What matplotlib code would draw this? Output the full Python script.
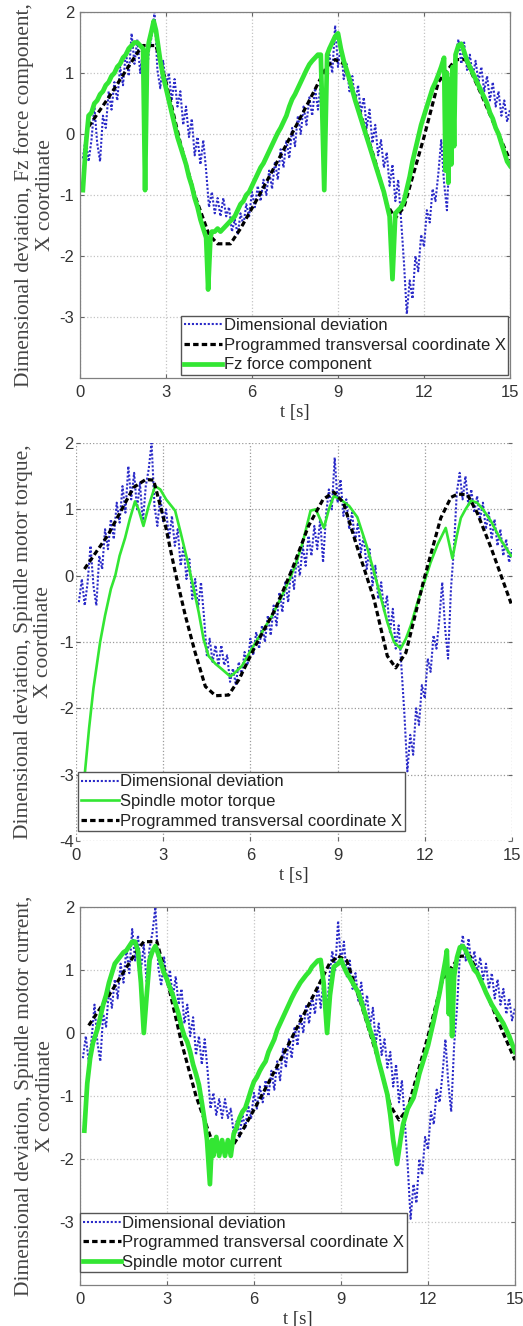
import matplotlib
matplotlib.use('Agg')
import matplotlib.pyplot as plt
import numpy as np

plt.rcParams['font.family'] = ['Liberation Sans', 'DejaVu Sans']
plt.rcParams['axes.unicode_minus'] = False

# ---------------- data ----------------
t_dev = np.round(np.linspace(0.1, 15.0, 150), 2)
dimensional_deviation = [
    -0.40, -0.05, -0.45, -0.10, 0.45, -0.15, -0.45, 0.30, 0.10, 0.70,
    0.40, 0.85, 0.55, 1.10, 0.80, 1.35, 0.95, 1.65, 1.15, 1.55,
    1.00, 1.40, 0.80, 1.35, 1.60, 2.00, 1.05, 0.75, 1.20, 0.80,
    1.00, 0.55, 0.90, 0.45, 0.70, 0.15, 0.45, -0.05, 0.25, -0.35,
    -0.05, -0.50, -0.10, -0.60, -1.20, -0.95, -1.30, -1.05, -1.35, -1.05,
    -1.35, -1.20, -1.60, -1.40, -1.65, -1.30, -1.50, -1.15, -1.35, -0.95,
    -1.20, -0.85, -1.10, -0.75, -1.00, -0.60, -0.90, -0.45, -0.75, -0.25,
    -0.55, -0.10, -0.40, 0.10, -0.20, 0.30, 0.00, 0.45, 0.15, 0.60,
    0.30, 0.75, 0.40, 0.85, 0.20, 0.90, 1.30, 1.00, 1.78, 1.10,
    1.45, 0.90, 1.15, 0.70, 0.95, 0.50, 0.80, 0.35, 0.60, 0.10,
    0.40, -0.15, 0.15, -0.35, -0.10, -0.55, -0.30, -0.85, -0.50, -1.10,
    -0.75, -1.40, -2.10, -2.95, -2.40, -2.70, -2.00, -2.25, -1.65, -1.85,
    -1.25, -1.45, -0.90, -1.10, -0.65, -0.10, -0.80, -1.25, -0.20, 0.40,
    1.25, 1.55, 1.15, 1.50, 1.05, 1.30, 0.95, 1.20, 0.85, 1.10,
    0.70, 0.95, 0.55, 0.85, 0.45, 0.70, 0.30, 0.55, 0.20, 0.40,
]

# programmed X coordinate (as drawn in panels 1 and 3)
t_x = [0.3, 1.0, 2.0, 2.2, 2.65, 3.0, 3.5, 4.0, 4.5, 4.8, 5.25, 5.6, 6.2, 7.0,
       8.0, 8.6, 8.9, 9.2, 9.7, 10.3, 10.7, 11.0, 11.3, 12.0, 12.5, 13.1, 13.45,
       14.0, 14.5, 15.0]
x_coord = [0.12, 0.6, 1.33, 1.45, 1.45, 0.85, -0.15, -1.0, -1.65, -1.8, -1.8, -1.55,
           -1.05, -0.35, 0.55, 1.1, 1.22, 1.15, 0.45, -0.45, -1.15, -1.38, -1.2,
           -0.05, 0.85, 1.22, 1.22, 0.65, 0.1, -0.43]

# programmed X coordinate (as drawn in panel 2, rounded)
t_x2 = [0.29, 1.11, 1.98, 2.4, 2.67, 3.07, 3.41, 3.76, 4.1, 4.45, 4.8, 5.25, 5.6,
        6.17, 6.86, 7.44, 8.0, 8.5, 8.87, 9.2, 9.68, 10.25, 10.71, 11.0, 11.35,
        11.98, 12.55, 12.9, 13.13, 13.47, 13.8, 14.28, 14.97]
x_coord2 = [0.1, 0.62, 1.33, 1.45, 1.44, 0.77, 0.06, -0.6, -1.16, -1.67, -1.81,
            -1.8, -1.57, -1.06, -0.5, 0.1, 0.75, 1.15, 1.26, 1.1, 0.42, -0.35,
            -1.21, -1.39, -1.16, -0.04, 0.87, 1.18, 1.23, 1.22, 0.95, 0.42, -0.42]

t_fz = [0.1, 0.2, 0.3, 0.4, 0.5, 0.6, 0.7, 0.8, 0.9, 1.0, 1.1, 1.2, 1.3, 1.4, 1.5,
        1.6, 1.7, 1.8, 1.9, 2.0, 2.1, 2.2, 2.27, 2.34, 2.4, 2.5, 2.57, 2.65, 2.8,
        2.9, 3.0, 3.1, 3.2, 3.3, 3.4, 3.5, 3.6, 3.7, 3.8, 3.9, 4.0, 4.1, 4.2, 4.3,
        4.4, 4.47, 4.55, 4.6, 4.7, 4.8, 4.9, 5.0, 5.1, 5.2, 5.3, 5.4, 5.5, 5.6,
        5.7, 5.8, 5.9, 6.0, 6.1, 6.2, 6.3, 6.4, 6.5, 6.6, 6.7, 6.8, 6.9, 7.0, 7.1,
        7.2, 7.3, 7.4, 7.5, 7.6, 7.7, 7.8, 7.9, 8.0, 8.1, 8.2, 8.3, 8.4, 8.52,
        8.62, 8.7, 8.8, 8.9, 9.0, 9.1, 9.2, 9.3, 9.4, 9.5, 9.6, 9.7, 9.8, 9.9,
        10.0, 10.1, 10.2, 10.3, 10.4, 10.5, 10.6, 10.7, 10.8, 10.9, 11.0, 11.1,
        11.2, 11.3, 11.4, 11.5, 11.6, 11.7, 11.8, 11.9, 12.0, 12.1, 12.2, 12.3,
        12.4, 12.5, 12.6, 12.7, 12.75, 12.8, 12.85, 12.9, 12.95, 13.0, 13.05,
        13.1, 13.2, 13.3, 13.4, 13.5, 13.6, 13.7, 13.8, 13.9, 14.0, 14.1, 14.2,
        14.3, 14.4, 14.5, 14.6, 14.7, 14.8, 14.9, 15.0]
fz_force = [-0.92, -0.2, 0.3, 0.35, 0.5, 0.55, 0.65, 0.7, 0.8, 0.85, 0.95, 1.0,
            1.1, 1.15, 1.25, 1.3, 1.4, 1.45, 1.5, 1.5, 1.45, 1.4, -0.92, 1.3, 1.5,
            1.7, 1.85, 1.7, 1.2, 0.95, 0.75, 0.55, 0.35, 0.15, -0.05, -0.2, -0.35,
            -0.5, -0.7, -0.85, -1.05, -1.2, -1.4, -1.55, -1.7, -2.55, -1.7, -1.6,
            -1.6, -1.55, -1.6, -1.55, -1.5, -1.45, -1.4, -1.35, -1.25, -1.15, -1.1,
            -1.0, -0.95, -0.85, -0.75, -0.65, -0.55, -0.48, -0.38, -0.28, -0.18,
            -0.08, 0.02, 0.1, 0.2, 0.3, 0.45, 0.57, 0.65, 0.75, 0.85, 0.95, 1.05,
            1.14, 1.2, 1.25, 1.3, 1.3, -0.92, 1.3, 1.4, 1.5, 1.6, 1.65, 1.4, 1.2,
            1.05, 0.9, 0.72, 0.55, 0.4, 0.25, 0.1, -0.05, -0.2, -0.35, -0.5, -0.65,
            -0.8, -0.95, -1.15, -1.35, -2.38, -1.3, -1.25, -1.2, -1.1, -0.9, -0.7,
            -0.45, -0.25, -0.05, 0.15, 0.3, 0.45, 0.6, 0.75, 0.85, 0.97, 1.1, 1.25,
            -0.6, 1.0, -0.8, 0.9, -0.5, 1.1, -0.2, 1.3, 1.45, 1.48, 1.35, 1.2, 1.1,
            1.0, 0.9, 0.8, 0.7, 0.6, 0.5, 0.35, 0.25, 0.1, 0.0, -0.15, -0.3, -0.45,
            -0.52]

t_tq = [0.3, 0.45, 0.6, 0.83, 1.0, 1.2, 1.35, 1.5, 1.69, 1.85, 2.03, 2.15, 2.32,
        2.5, 2.72, 2.9, 3.1, 3.41, 3.6, 3.87, 4.05, 4.22, 4.39, 4.56, 4.8, 5.02,
        5.31, 5.5, 5.71, 6.05, 6.4, 6.75, 7.09, 7.35, 7.55, 7.8, 8.07, 8.25, 8.53,
        8.7, 8.87, 9.1, 9.4, 9.68, 10.0, 10.25, 10.5, 10.71, 10.94, 11.17, 11.35,
        11.52, 11.75, 11.98, 12.2, 12.44, 12.72, 12.95, 13.1, 13.24, 13.4, 13.59,
        13.8, 14.0, 14.28, 14.6, 14.97]
spindle_torque = [-3.0, -2.3, -1.7, -1.0, -0.6, -0.2, 0.0, 0.3, 0.57, 0.85, 1.12,
                  1.0, 0.75, 1.05, 1.35, 1.3, 1.15, 0.98, 0.65, 0.16, -0.2, -0.55,
                  -0.96, -1.21, -1.33, -1.41, -1.52, -1.45, -1.36, -1.1, -0.85, -0.6,
                  -0.3, -0.05, 0.16, 0.5, 0.98, 1.0, 0.72, 1.0, 1.2, 1.15, 1.05, 0.88,
                  0.45, 0.06, -0.35, -0.7, -1.0, -1.1, -0.95, -0.75, -0.4, -0.1, 0.2,
                  0.47, 0.72, 0.26, 0.6, 0.87, 1.0, 1.13, 1.1, 1.0, 0.82, 0.55, 0.3]

t_cur = [0.15, 0.25, 0.35, 0.45, 0.6, 0.7, 0.8, 0.9, 1.0, 1.1, 1.2, 1.3, 1.4, 1.5,
         1.6, 1.7, 1.8, 1.9, 2.0, 2.1, 2.2, 2.3, 2.4, 2.5, 2.6, 2.7, 2.8, 2.9, 3.0,
         3.1, 3.2, 3.3, 3.4, 3.5, 3.6, 3.7, 3.8, 3.9, 4.0, 4.1, 4.2, 4.3, 4.38,
         4.48, 4.55, 4.6, 4.7, 4.8, 4.9, 5.0, 5.1, 5.2, 5.3, 5.4, 5.5, 5.6, 5.7,
         5.8, 5.9, 6.0, 6.1, 6.2, 6.3, 6.4, 6.5, 6.6, 6.7, 6.8, 6.9, 7.0, 7.1, 7.2,
         7.3, 7.4, 7.5, 7.6, 7.7, 7.8, 7.9, 8.0, 8.1, 8.2, 8.3, 8.4, 8.52, 8.62,
         8.75, 8.9, 9.0, 9.1, 9.2, 9.3, 9.4, 9.5, 9.6, 9.7, 9.8, 9.9, 10.0, 10.1,
         10.2, 10.3, 10.4, 10.5, 10.6, 10.7, 10.8, 10.93, 11.05, 11.14, 11.3, 11.5,
         11.6, 11.7, 11.8, 11.9, 12.0, 12.1, 12.2, 12.3, 12.4, 12.5, 12.6, 12.65,
         12.72, 12.78, 12.83, 12.9, 13.0, 13.1, 13.2, 13.3, 13.4, 13.5, 13.6, 13.7,
         13.8, 13.9, 14.0, 14.2, 14.4, 14.6, 14.8, 15.0]
spindle_current = [-1.55, -0.8, -0.4, -0.15, 0.06, 0.25, 0.45, 0.6, 0.8, 0.95, 1.1,
                   1.16, 1.22, 1.28, 1.31, 1.38, 1.45, 1.45, 1.3, 0.8, 0.0, 0.6, 1.16,
                   1.3, 1.38, 1.25, 1.1, 0.95, 0.85, 0.72, 0.6, 0.45, 0.3, 0.1, -0.05,
                   -0.14, -0.3, -0.5, -0.65, -0.82, -1.1, -1.4, -1.7, -2.4, -1.7, -1.95,
                   -1.65, -1.95, -1.7, -1.95, -1.7, -1.95, -1.6, -1.5, -1.35, -1.25,
                   -1.19, -1.05, -0.9, -0.77, -0.7, -0.6, -0.52, -0.45, -0.3, -0.2,
                   -0.1, 0.05, 0.15, 0.25, 0.35, 0.45, 0.55, 0.64, 0.72, 0.8, 0.86,
                   0.92, 0.97, 1.05, 1.1, 1.15, 1.16, 0.8, 0.0, 0.6, 1.05, 1.1, 1.16,
                   1.05, 0.95, 0.88, 0.8, 0.72, 0.64, 0.5, 0.35, 0.2, 0.05, -0.08,
                   -0.25, -0.45, -0.62, -0.8, -0.98, -1.3, -1.7, -2.08, -1.7, -1.45,
                   -1.2, -1.03, -0.85, -0.65, -0.5, -0.35, -0.2, 0.0, 0.2, 0.42, 0.64,
                   0.9, 1.15, 1.31, 0.3, 1.0, -0.05, 0.9, 1.2, 1.36, 1.38, 1.31, 1.2,
                   1.1, 1.0, 0.95, 0.85, 0.75, 0.64, 0.45, 0.3, 0.15, -0.05, -0.3]

x_ticks = [0, 3, 6, 9, 12, 15]

lbl_dev = 'Dimensional deviation'
lbl_x = 'Programmed transversal coordinate X'

# ---------------- styling ----------------
BLUE = '#2a2ac8'
GREEN = '#33e633'
SERIF = ['Liberation Serif', 'DejaVu Serif']
DEV_STYLE = dict(ls=(0, (1.0, 0.9)), color=BLUE, lw=1.5)
X_STYLE = dict(ls=(0, (1.7, 1.0)), color='black', lw=2.3)

fig = plt.figure(figsize=(5.23, 13.26), dpi=100)
W, H = 523.0, 1326.0


def rect(l, t, r, b):
    return [l / W, 1 - b / H, (r - l) / W, (b - t) / H]


def style_axes(ax, yticks, box=True, grid_color='#c4c4c4', ypad=4):
    ax.set_xlim(0, 15)
    ax.set_ylim(-4, 2)
    ax.set_xticks(x_ticks)
    ax.set_yticks(yticks)
    ax.tick_params(direction='in', length=3, labelsize=12, labelcolor='#333333',
                   color='#666666', top=box, right=True, pad=5)
    ax.tick_params(axis='y', pad=ypad)
    ax.grid(True, ls=':', color=grid_color, lw=0.9)
    for s in ax.spines.values():
        s.set_visible(box)
        s.set_color('#808080')
        s.set_linewidth(0.9)
    ax.set_xlabel('t [s]', family=SERIF, fontsize=13.5, labelpad=3, color='#333333')


def add_legend(ax, handles, labels, loc, anchor):
    leg = ax.legend(handles, labels, loc=loc, bbox_to_anchor=anchor,
                    bbox_transform=fig.transFigure, prop={'size': 12},
                    fancybox=False, framealpha=1, edgecolor='#555555',
                    borderpad=0.15, labelspacing=0.28, handlelength=2.3,
                    handletextpad=0.1, borderaxespad=0)
    leg.get_frame().set_linewidth(1.0)
    for txt in leg.get_texts():
        txt.set_color('#222222')
    return leg


# ---------- panel 1 ----------
ax1 = fig.add_axes(rect(80, 12, 510, 378))
style_axes(ax1, [-3, -2, -1, 0, 1, 2])
h1, = ax1.plot(t_dev, dimensional_deviation, **DEV_STYLE)
h2, = ax1.plot(t_x, x_coord, **X_STYLE)
h3, = ax1.plot(t_fz, fz_force, color=GREEN, lw=3.4)
add_legend(ax1, [h1, h2, h3], [lbl_dev, lbl_x, 'Fz force component'],
           'lower right', (508 / W, 1 - 375 / H))
ax1.set_ylabel('Dimensional deviation, Fz force component,\nX coordinate',
               family=SERIF, fontsize=15.5, linespacing=1.12, color='#444444')
ax1.yaxis.set_label_coords(-0.058, 0.5)

# ---------- panel 2 ----------
ax2 = fig.add_axes(rect(76, 443, 512, 841))
style_axes(ax2, [-4, -3, -2, -1, 0, 1, 2], box=False, grid_color='#9a9a9a', ypad=1.5)
g1, = ax2.plot(t_dev, dimensional_deviation, **DEV_STYLE)
g2, = ax2.plot(t_tq, spindle_torque, color=GREEN, lw=1.9)
g3, = ax2.plot(t_x2, x_coord2, **X_STYLE)
add_legend(ax2, [g1, g2, g3], [lbl_dev, 'Spindle motor torque', lbl_x],
           'upper left', (78 / W, 1 - 772 / H))
ax2.set_ylabel('Dimensional deviation, Spindle motor torque,\nX coordinate',
               family=SERIF, fontsize=15.5, linespacing=1.12, color='#444444')
ax2.yaxis.set_label_coords(-0.052, 0.5)

# ---------- panel 3 ----------
ax3 = fig.add_axes(rect(80, 907, 515, 1285))
style_axes(ax3, [-3, -2, -1, 0, 1, 2])
k1, = ax3.plot(t_dev, dimensional_deviation, **DEV_STYLE)
k2, = ax3.plot(t_x, x_coord, **X_STYLE)
k3, = ax3.plot(t_cur, spindle_current, color=GREEN, lw=3.4)
add_legend(ax3, [k1, k2, k3], [lbl_dev, lbl_x, 'Spindle motor current'],
           'upper left', (80 / W, 1 - 1213 / H))
ax3.set_ylabel('Dimensional deviation, Spindle motor current,\nX coordinate',
               family=SERIF, fontsize=15.5, linespacing=1.12, color='#444444')
ax3.yaxis.set_label_coords(-0.058, 0.5)

fig.savefig('out.png', dpi=100)
